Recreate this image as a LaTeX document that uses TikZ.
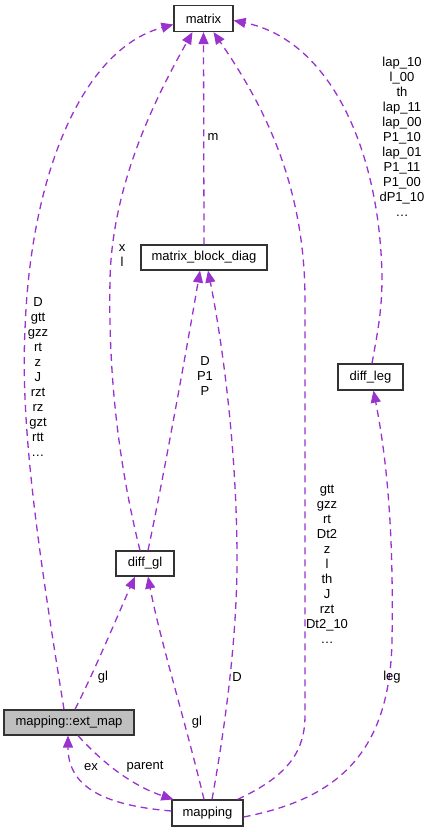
\documentclass[tikz,border=0pt]{standalone}
\usepackage{fontspec}
\setmainfont{Liberation Sans}
\usetikzlibrary{arrows.meta}
\definecolor{edgec}{HTML}{9A32CD}
\definecolor{nodegray}{HTML}{BFBFBF}
\definecolor{borderc}{HTML}{333333}
\begin{document}
\begin{tikzpicture}[x=1pt,y=-1pt,
  box/.style={draw=borderc, line width=1.2pt, rectangle, inner sep=0pt, font=\fontsize{13}{15}\selectfont},
  edge/.style={draw=edgec, line width=1.3pt, dash pattern=on 7pt off 5pt, -{Triangle[length=12pt,width=10pt]}},
  lbl/.style={font=\fontsize{13}{15}\selectfont, align=center, inner sep=0pt}]
\useasboundingbox (0,0) rectangle (431,832);
% nodes
\node[box, minimum width=59pt, minimum height=26pt] (matrix) at (203.5,18.5) {matrix};
\node[box, minimum width=126pt, minimum height=25pt] (mbd) at (204,257.5) {matrix\_block\_diag};
\node[box, minimum width=65pt, minimum height=26pt] (diffleg) at (370.5,377) {diff\_leg};
\node[box, minimum width=58pt, minimum height=25pt] (diffgl) at (145,563.5) {diff\_gl};
\node[box, fill=nodegray, minimum width=130pt, minimum height=25pt] (extmap) at (69,722.5) {mapping::ext\_map};
\node[box, minimum width=71pt, minimum height=26pt] (mapping) at (207.5,813) {mapping};
% edges
\draw[edge] ([xshift=-5pt]extmap.north) .. controls (40,560) and (20,430) .. (25,330)
  .. controls (30,180) and (80,50) .. ([yshift=-6pt]matrix.west);
\draw[edge] ([xshift=-5pt]diffgl.north) .. controls (120,470) and (108,380) .. (110,280)
  .. controls (112,180) and (160,90) .. ([xshift=-11pt]matrix.south);
\draw[edge] (mbd.north) -- (matrix.south);
\draw[edge] ([xshift=-6pt]mapping.north east) .. controls (290,775) and (305,750) .. (305,715)
  -- (305,300) .. controls (305,180) and (260,100) .. ([xshift=10pt]matrix.south);
\draw[edge] ([xshift=1.5pt]diffleg.north) .. controls (378,330) and (382,310) .. (382,277)
  .. controls (380,150) and (330,40) .. ([yshift=-2pt]matrix.east);
\draw[edge] ([xshift=3pt]diffgl.north) .. controls (165,470) and (190,330) .. ([xshift=-4pt]mbd.south);
\draw[edge] ([xshift=4.5pt]mapping.north) .. controls (230,700) and (237,620) .. (237,560)
  .. controls (237,440) and (220,330) .. ([xshift=4pt]mbd.south);
\draw[edge] ([xshift=6pt]extmap.north) .. controls (95,670) and (120,610) .. ([xshift=-10pt]diffgl.south);
\draw[edge] ([xshift=-3.5pt]mapping.north) .. controls (185,720) and (160,640) .. ([xshift=3pt]diffgl.south);
\draw[edge] ([yshift=2pt]mapping.west) .. controls (100,805) and (68,785) .. ([xshift=-1pt]extmap.south);
\draw[edge] ([xshift=9pt]extmap.south) .. controls (100,760) and (130,785) .. ([xshift=2pt]mapping.north west);
\draw[edge] ([yshift=-4pt]mapping.east) .. controls (330,800) and (390,760) .. (392,640)
  .. controls (394,520) and (385,450) .. ([xshift=3pt]diffleg.south);
% labels
\node[lbl] (l1) at (38,377.5) {D\\gtt\\gzz\\rt\\z\\J\\rzt\\rz\\gzt\\rtt\\\dots};
\node[lbl] (l2) at (122,256) {x\\l};
\node[lbl] (l3) at (213,137) {m};
\node[lbl] (l4) at (327,564) {gtt\\gzz\\rt\\Dt2\\z\\l\\th\\J\\rzt\\Dt2\_10\\\dots};
\node[lbl] (l5) at (402,137) {lap\_10\\l\_00\\th\\lap\_11\\lap\_00\\P1\_10\\lap\_01\\P1\_11\\P1\_00\\dP1\_10\\\dots};
\node[lbl] (l6) at (205,376) {D\\P1\\P};
\node[lbl] (l7) at (237,677) {D};
\node[lbl] (l8) at (103,677) {gl};
\node[lbl] (l9) at (197,722) {gl};
\node[lbl] (l10) at (392,677) {leg};
\node[lbl] (l11) at (91,767) {ex};
\node[lbl] (l12) at (145,767) {parent};
\end{tikzpicture}
\end{document}
